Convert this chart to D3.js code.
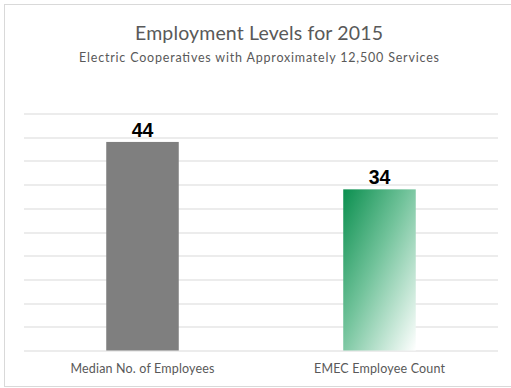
<!DOCTYPE html>
<html>
<head>
<meta charset="utf-8">
<script src="https://cdn.jsdelivr.net/npm/d3@7"></script>
<style>
  body { margin: 0; background: #fff; }
  #chart { width: 511px; height: 388px; }
</style>
</head>
<body>
<div id="chart"></div>
<script>
// data
const categories = ["Median No. of Employees", "EMEC Employee Count"];
const values = [44, 34];
const yTicks = [0, 5, 10, 15, 20, 25, 30, 35, 40, 45, 50];

const W = 511, H = 388;
const margin = {top: 113.5, right: 13, bottom: 37.5, left: 24};
const width = W - margin.left - margin.right;
const height = H - margin.top - margin.bottom;

const svg = d3.select("#chart").append("svg")
    .attr("width", W)
    .attr("height", H);

// gradient for the second bar
const grad = svg.append("defs").append("linearGradient")
    .attr("id", "greenGrad")
    .attr("x1", 0).attr("y1", 0)
    .attr("x2", 1).attr("y2", 1);
grad.append("stop").attr("offset", "0%").attr("stop-color", "#0b8f4f");
grad.append("stop").attr("offset", "45%").attr("stop-color", "#72c39b");
grad.append("stop").attr("offset", "100%").attr("stop-color", "#ffffff");

// chart frame
svg.append("rect")
    .attr("x", 4.5).attr("y", 4.5)
    .attr("width", W + 10).attr("height", H - 6)
    .attr("fill", "none")
    .attr("stroke", "#d9d9d9")
    .attr("stroke-width", 1);

// title
svg.append("text")
    .attr("x", 259).attr("y", 40)
    .attr("text-anchor", "middle")
    .attr("font-family", "Lato, 'Open Sans', sans-serif")
    .attr("font-size", 19.5)
    .attr("fill", "#595959")
    .attr("textLength", 248)
    .attr("lengthAdjust", "spacing")
    .text("Employment Levels for 2015");

svg.append("text")
    .attr("x", 259).attr("y", 62)
    .attr("text-anchor", "middle")
    .attr("font-family", "Lato, 'Open Sans', sans-serif")
    .attr("font-size", 12.5)
    .attr("fill", "#595959")
    .attr("textLength", 360)
    .attr("lengthAdjust", "spacing")
    .text("Electric Cooperatives with Approximately 12,500 Services");

const g = svg.append("g")
    .attr("transform", "translate(" + margin.left + "," + margin.top + ")");

const x = d3.scaleBand()
    .domain(categories)
    .range([0, width])
    .paddingInner(0.694)
    .paddingOuter(0.347);

const y = d3.scaleLinear()
    .domain([0, 50])
    .range([height, 0]);

// gridlines
g.append("g")
    .selectAll("line")
    .data(yTicks)
    .join("line")
    .attr("x1", 0).attr("x2", width)
    .attr("y1", d => Math.round(y(d)) + 0.5)
    .attr("y2", d => Math.round(y(d)) + 0.5)
    .attr("stroke", "#d9d9d9")
    .attr("stroke-width", 1);

// bars
g.selectAll(".bar")
    .data(values)
    .join("rect")
    .attr("class", "bar")
    .attr("x", (d, i) => x(categories[i]))
    .attr("width", x.bandwidth())
    .attr("y", d => y(d))
    .attr("height", d => height - y(d))
    .attr("fill", (d, i) => i === 0 ? "#7f7f7f" : "url(#greenGrad)");

// value labels
g.selectAll(".val")
    .data(values)
    .join("text")
    .attr("class", "val")
    .attr("x", (d, i) => x(categories[i]) + x.bandwidth() / 2)
    .attr("y", d => y(d) - 5)
    .attr("text-anchor", "middle")
    .attr("font-family", "'Liberation Sans', Arial, sans-serif")
    .attr("font-weight", "bold")
    .attr("font-size", 19.5)
    .attr("fill", "#000")
    .text(d => d);

// category labels
const catWidths = [144, 131];
g.selectAll(".cat")
    .data(categories)
    .join("text")
    .attr("class", "cat")
    .attr("x", d => x(d) + x.bandwidth() / 2)
    .attr("y", height + 22.5)
    .attr("text-anchor", "middle")
    .attr("font-family", "Lato, 'Open Sans', sans-serif")
    .attr("font-size", 12.5)
    .attr("fill", "#595959")
    .attr("textLength", (d, i) => catWidths[i])
    .attr("lengthAdjust", "spacing")
    .text(d => d);
</script>
</body>
</html>
